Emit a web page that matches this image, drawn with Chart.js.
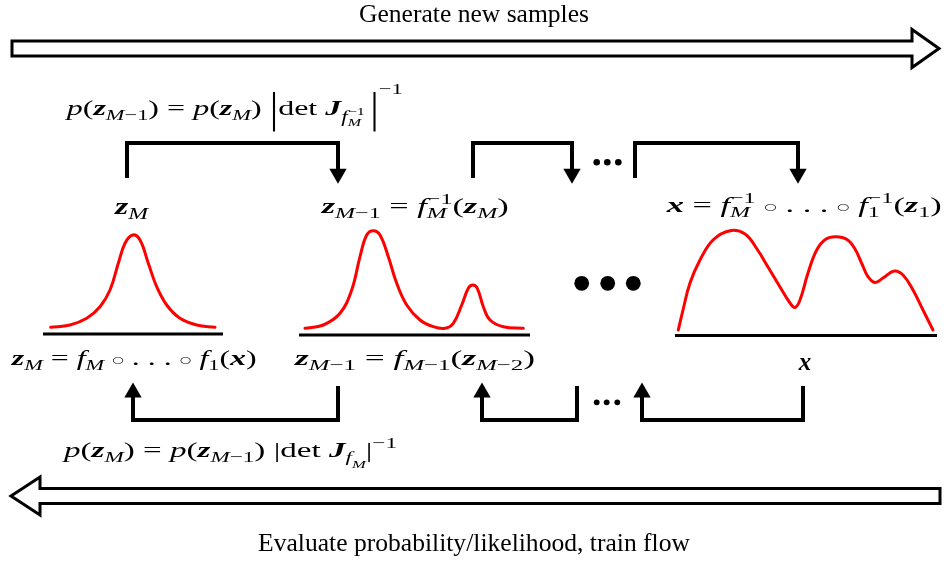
<!DOCTYPE html>
<html>
<head>
  <title>Normalizing flow diagram</title>
  <script src="https://cdn.jsdelivr.net/npm/chart.js"></script>
  <style>
    body { margin: 0; background: #fff; overflow: hidden; }
  </style>
</head>
<body>
  <canvas id="flowChart" width="948" height="563"></canvas>

  <script>
    // --- density curves as [x, y] (y grows downwards)
    const curveZM = [[50.7,327.3],[70,325],[86.7,318.3],[100,306.7],[110,290],[118.3,263.3],[125,243.3],
      [132.7,235],[140,240],[148.3,263.3],[156.7,286.7],[166.7,305],[180,318.3],[196.7,325],[215,327.3]];
    const curveZM1 = [[305,328.3],[323.3,325],[340,313.3],[351.7,290],[360,256.7],[366.7,235],[373.3,230.7],
      [380,235],[388.3,256.7],[396.7,283.3],[406.7,305],[420,320],[433.3,326.7],[445,328.3],[453.3,323.3],
      [461.7,305],[468.3,288.3],[472.7,285],[477.3,288.3],[483.3,306.7],[490,320],[503.3,326.7],[523.3,328.3]];
    const curveX = [[678.3,330],[683,310],[690,283],[700,260],[713,240],[730,230.7],[745,234],[757,249],
      [768,267],[780,287],[790,303],[795,307.5],[800,300],[808,273],[816.7,250],[826,239],[836,236.7],
      [847,239.5],[855,249],[862,264],[868,276.7],[875,282.5],[883,278],[894.3,271],[903,275],[913,290],
      [923,310],[933,330]];

    // baselines under each density
    const baseZM = [[43,334],[223,334]];
    const baseZM1 = [[299,335],[530,335]];
    const baseX = [[675,335.5],[937,335.5]];

    // hollow arrows
    const arrowGenerate = [[12,48.5],[12,41],[912,41],[912,29.5],[939,48.5],[912,67.5],[912,56],[12,56],[12,48.5]];
    const arrowEvaluate = [[940,496],[940,503.5],[40,503.5],[40,515],[11,496],[40,477],[40,488.5],[940,488.5],[940,496]];

    // bracket connectors
    const bracketsTop = [
      [[127,178],[127,143],[338,143],[338,174]],
      [[473,178],[473,143],[572,143],[572,174]],
      [[635,178],[635,143],[798,143],[798,174]]
    ];
    const bracketsBottom = [
      [[133,393],[133,420],[338,420],[338,386]],
      [[482,393],[482,420],[577,420],[577,386]],
      [[642,393],[642,420],[803,420],[803,386]]
    ];
    const headsDown = [[338,173.8],[572,173.8],[798,173.8]];
    const headsUp = [[133,392.5],[482,392.5],[642,392.5]];

    // ellipsis dots
    const dotsBig = [[581.7,283.3],[607.7,283.3],[633.3,283.3]];
    const dotsTop = [[596.7,162.3],[607.3,162.3],[618.3,162.3]];
    const dotsBottom = [[596.7,402.3],[606.7,402.3],[617.3,402.3]];

    // --- text: [string, face, level, stackWithNext]
    // face: r roman, i italic, b bold italic, c operator font
    // level: 0 base, 1 sub, -1 sup, 2 sub of sub, -2 sup of sub, 3 low sub,
    //        7 composition ring, 8 big delimiter, 9 sup after big delimiter
    const titleTop = 'Generate new samples';
    const titleBottom = 'Evaluate probability/likelihood, train flow';
    const eqGenerate = [['p','i',0],['(','r',0],['z','b',0],['M','i',1],['−1','r',1],[')','r',0],[' = ','r',0],
      ['p','i',0],['(','r',0],['z','b',0],['M','i',1],[')','r',0],[' ','r',0],['|','c',8],['det ','r',0],
      ['J','b',0],['f','i',3],['−1','r',-2,1],['M','i',2],[' ','r',1],['|','c',8],['−1','r',9]];
    const eqEvaluate = [['p','i',0],['(','r',0],['z','b',0],['M','i',1],[')','r',0],[' = ','r',0],
      ['p','i',0],['(','r',0],['z','b',0],['M','i',1],['−1','r',1],[')','r',0],[' ','r',0],['|','r',0],
      ['det ','r',0],['J','b',0],['f','i',1],['M','i',2],['|','r',0],['−1','r',-1]];
    const lblZM = [['z','b',0],['M','i',1]];
    const lblZM1 = [['z','b',0],['M','i',1],['−1','r',1],[' = ','r',0],['f','i',0],['−1','r',-1,1],['M','i',1],
      ['(','r',0],['z','b',0],['M','i',1],[')','r',0]];
    const lblX = [['x','b',0],[' = ','r',0],['f','i',0],['−1','r',-1,1],['M','i',1],[' ','r',0],['○','c',7],
      [' . . . ','r',0],['○','c',7],[' ','r',0],['f','i',0],['−1','r',-1,1],['1','r',1],['(','r',0],['z','b',0],
      ['1','r',1],[')','r',0]];
    const lblZMfwd = [['z','b',0],['M','i',1],[' = ','r',0],['f','i',0],['M','i',1],[' ','r',0],['○','c',7],
      [' . . . ','r',0],['○','c',7],[' ','r',0],['f','i',0],['1','r',1],['(','r',0],['x','b',0],[')','r',0]];
    const lblZM1fwd = [['z','b',0],['M','i',1],['−1','r',1],[' = ','r',0],['f','i',0],['M','i',1],['−1','r',1],
      ['(','r',0],['z','b',0],['M','i',1],['−2','r',1],[')','r',0]];
    const lblXaxis = [['x','b',0]];

    // where the texts go (anchor x, baseline y, size, fitted width)
    const textLayout = [
      { plain: titleTop, x: 474, y: 22, size: 25.5, w: 230, align: 'center' },
      { plain: titleBottom, x: 474, y: 551, size: 25.5, w: 432, align: 'center' },
      { math: eqGenerate, x: 66.7, y: 115, size: 22, w: 336 },
      { math: eqEvaluate, x: 64, y: 457, size: 22, w: 333 },
      { math: lblZM, x: 115, y: 214, size: 23, w: 33 },
      { math: lblZM1, x: 321.7, y: 213, size: 22, w: 187 },
      { math: lblX, x: 666.7, y: 212, size: 22, w: 275 },
      { math: lblZMfwd, x: 11.7, y: 365, size: 22, w: 245 },
      { math: lblZM1fwd, x: 295, y: 365, size: 22, w: 240 },
      { math: lblXaxis, x: 805, y: 370, size: 25, align: 'center' }
    ];

    const LEVELS = {
      '0': { s: 1, dy: 0 }, '1': { s: 0.7, dy: 0.22 }, '-1': { s: 0.7, dy: -0.42 },
      '2': { s: 0.5, dy: 0.5 }, '-2': { s: 0.5, dy: 0.0 }, '3': { s: 0.72, dy: 0.32 },
      '7': { s: 0.42, dy: -0.1 },
      '8': { s: 1.75, dy: 0.3, sx: 0.45 }, '9': { s: 0.7, dy: -0.95 }
    };
    const FAMILY = '"Liberation Serif", "DejaVu Serif", serif';
    const FACES = {
      r: s => s + 'px ' + FAMILY,
      i: s => 'italic ' + s + 'px ' + FAMILY,
      b: s => 'italic bold ' + s + 'px ' + FAMILY,
      c: s => s + 'px "DejaVu Sans", sans-serif'
    };

    function layoutMath(ctx, items, size) {
      let x = 0, pending = 0;
      const runs = [];
      for (const [t, face, lv, stack] of items) {
        const L = LEVELS[lv];
        const font = FACES[face]((size * L.s).toFixed(2));
        ctx.font = font;
        const sx = L.sx || 1;
        const w = ctx.measureText(t).width * sx;
        runs.push({ t, font, x, dy: L.dy * size, sx });
        if (stack) { pending = w; } else { x += Math.max(w, pending); pending = 0; }
      }
      return { runs, width: x };
    }

    const textPlugin = {
      id: 'flowText',
      afterDatasetsDraw(chart) {
        const ctx = chart.ctx;
        const sx = chart.scales.x, sy = chart.scales.y;
        ctx.save();
        ctx.fillStyle = '#000';
        ctx.textBaseline = 'alphabetic';
        ctx.textAlign = 'left';
        for (const item of textLayout) {
          let lay;
          if (item.plain) {
            const font = item.size + 'px ' + FAMILY;
            ctx.font = font;
            lay = { runs: [{ t: item.plain, font, x: 0, dy: 0, sx: 1 }], width: ctx.measureText(item.plain).width };
          } else {
            lay = layoutMath(ctx, item.math, item.size);
          }
          const k = item.w ? item.w / lay.width : 1;
          let px = sx.getPixelForValue(item.x);
          const py = sy.getPixelForValue(item.y);
          if (item.align === 'center') px -= lay.width * k / 2;
          ctx.save();
          ctx.translate(px, py);
          ctx.scale(k, 1);
          for (const r of lay.runs) {
            ctx.font = r.font;
            ctx.save();
            ctx.translate(r.x, r.dy);
            ctx.scale(r.sx, 1);
            ctx.fillText(r.t, 0, 0);
            ctx.restore();
          }
          ctx.restore();
        }
        ctx.restore();
      }
    };

    const pts = arr => arr.map(([x, y]) => ({ x, y }));
    const lineSet = (arr, color, width, extra) => Object.assign({
      data: pts(arr), showLine: true, borderColor: color, borderWidth: width,
      pointRadius: 0, tension: 0, fill: false, borderJoinStyle: 'miter', borderCapStyle: 'butt'
    }, extra || {});
    const dotSet = (arr, r, style, rot) => ({
      data: pts(arr), showLine: false, pointRadius: r, pointStyle: style || 'circle',
      rotation: rot || 0, pointBackgroundColor: '#000', pointBorderColor: '#000', pointBorderWidth: 0
    });
    const curveOpts = { tension: 0.4, borderCapStyle: 'round', borderJoinStyle: 'round' };

    const datasets = [
      lineSet(curveZM, '#ff0000', 3, curveOpts),
      lineSet(curveZM1, '#ff0000', 3, curveOpts),
      lineSet(curveX, '#ff0000', 3, curveOpts),
      lineSet(baseZM, '#000', 3),
      lineSet(baseZM1, '#000', 3),
      lineSet(baseX, '#000', 3),
      lineSet(arrowGenerate, '#000', 3),
      lineSet(arrowEvaluate, '#000', 3),
      ...bracketsTop.map(b => lineSet(b, '#000', 4)),
      ...bracketsBottom.map(b => lineSet(b, '#000', 4)),
      dotSet(headsDown, 10, 'triangle', 180),
      dotSet(headsUp, 10, 'triangle', 0),
      dotSet(dotsBig, 7.4),
      dotSet(dotsTop, 3.3),
      dotSet(dotsBottom, 2.9)
    ];

    const ctx = document.getElementById('flowChart').getContext('2d');
    const flowChart = new Chart(ctx, {
      type: 'scatter',
      data: { datasets },
      options: {
        responsive: false,
        animation: false,
        events: [],
        layout: { padding: 0, autoPadding: false },
        plugins: { legend: { display: false }, tooltip: { enabled: false } },
        scales: {
          x: { type: 'linear', min: 0, max: 948, display: false },
          y: { type: 'linear', min: 0, max: 563, reverse: true, display: false }
        }
      },
      plugins: [textPlugin]
    });
  </script>
</body>
</html>
